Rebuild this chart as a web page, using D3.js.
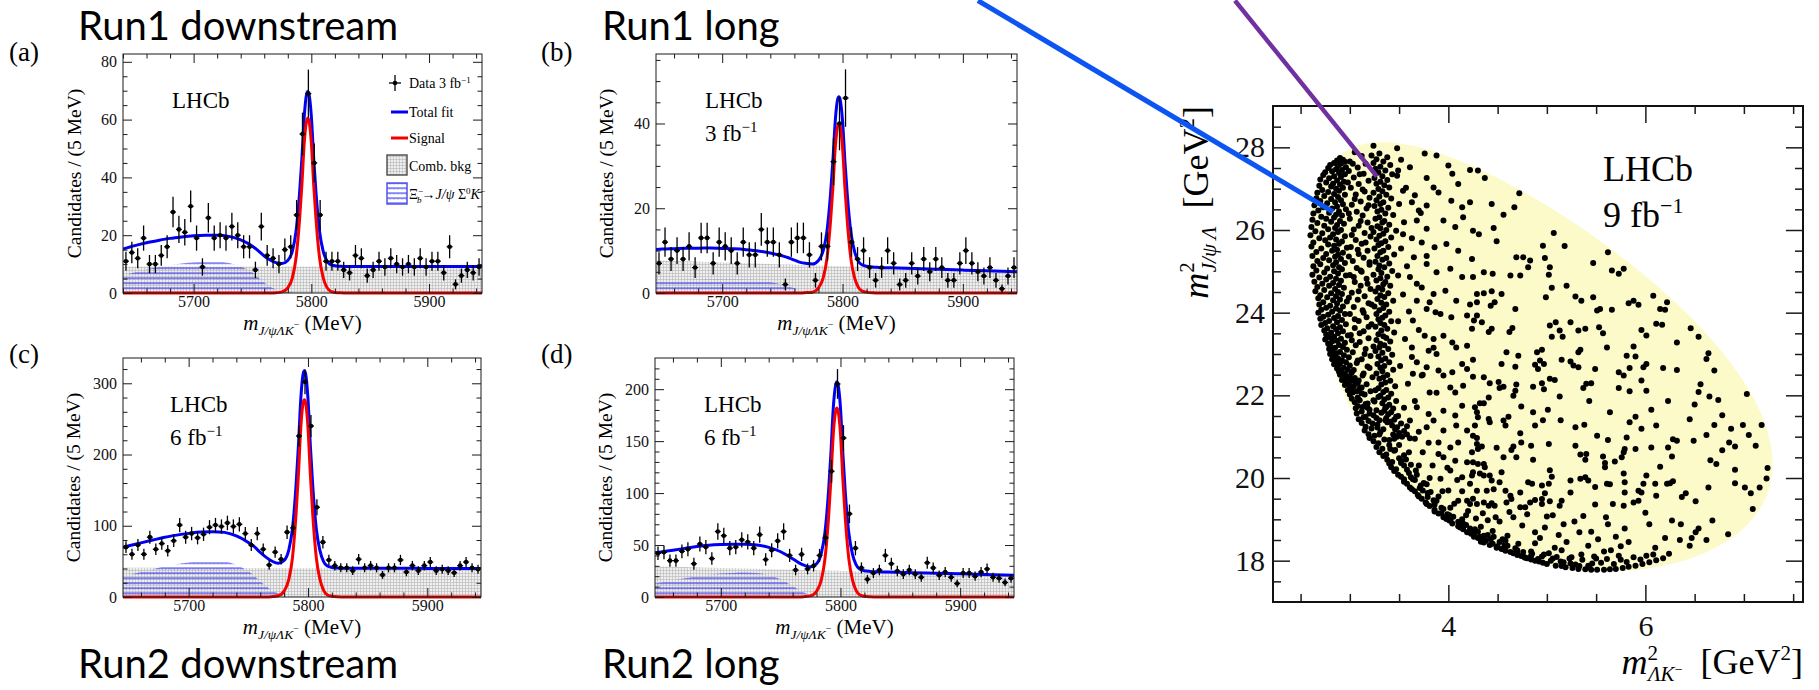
<!DOCTYPE html>
<html lang="en">
<head>
<meta charset="utf-8">
<title>Ξb⁻ → J/ψ Λ K⁻ candidates and Dalitz plot</title>
<script src="https://cdn.jsdelivr.net/npm/d3@7"></script>
<style>
  html, body { margin: 0; padding: 0; background: #fff; }
  svg { display: block; }
</style>
</head>
<body>
<svg id="figure" width="1819" height="690" xmlns="http://www.w3.org/2000/svg"></svg>
<script>
// ---------------- Invariant-mass histograms (5 MeV bins) ----------------
const binWidth = 5;
const massRangeRun1Downstream = [5640, 5945];
const massRangeRun1Long = [5645, 5945];
const massRangeRun2Downstream = [5645, 5945];
const massRangeRun2Long = [5645, 5945];

const countsRun1Downstream = [11,14,12,19,10,10,13,16,28,22,21,30,19,9,26,19,20,19,23,20,16,16,8,23,13,12,10,15,16,27,55,69,45,27,11,11,11,8,7,13,12,6,8,11,9,12,10,9,10,9,12,9,11,11,7,16,3,6,8,7,9];
const countsRun1Long = [7,12,8,10,8,11,6,13,13,7,12,11,10,7,12,9,9,15,12,12,9,2,12,13,13,9,3,11,11,31,40,46,12,8,10,6,3,6,10,7,2,3,7,4,8,5,8,6,3,3,7,10,7,5,4,6,3,1,4,6];
const countsRun2Downstream = [70,60,73,60,84,67,75,65,79,101,84,89,83,88,98,101,99,104,99,102,89,73,89,67,45,63,53,91,97,226,302,240,126,77,52,44,41,41,37,53,41,44,41,31,41,41,52,35,44,37,44,49,37,39,37,34,44,49,41,39];
const countsRun2Long = [42,43,35,35,44,46,32,51,48,37,63,59,47,48,55,53,47,60,36,45,54,63,40,26,41,27,30,40,57,121,205,153,80,47,28,17,23,26,40,32,25,22,26,22,19,33,28,21,24,19,13,23,23,20,24,27,19,18,14,18];

// ---------------- Fit components, sampled along the mass axis ----------------
const fitMass = [5640,5650,5660,5670,5680,5690,5700,5710,5720,5730,5740,5750,5755,5760,5765,5770,5775,5780,5784,5787,5790,5792,5794,5796,5797,5798,5800,5802,5804,5807,5810,5813,5816,5820,5825,5830,5840,5860,5880,5900,5920,5945];

const signalRun1Downstream = [0,0,0,0,0,0,0,0,0,0,0,0,0,0, 0,0.1,0.4,1.8,5.4,12.1,25.4,37.5,52,59.6,60.5,59.6,52,37.5,25.4,12.1,5.4,2.1,0.7,0.2,0.06,0, 0,0,0,0,0,0];
const signalRun1Long = [0,0,0,0,0,0,0,0,0,0,0,0,0,0, 0,0.1,0.2,1.2,3.6,8,16.8,24.8,34.4,39.4,40,39.4,34.4,24.8,16.8,8,3.6,1.4,0.5,0.2,0.04,0, 0,0,0,0,0,0];
const signalRun2Downstream = [0,0,0,0,0,0,0,0,0,0,0,0,0,0, 0,0.6,1.7,8.3,25,55,116,172,238,273,277,273,238,172,116,55,25,9.7,3.3,1.1,0.3,0, 0,0,0,0,0,0];
const signalRun2Long = [0,0,0,0,0,0,0,0,0,0,0,0,0,0, 0,0.4,1.1,5.5,16.4,36.4,76,113,157,179,182,179,157,113,76,36.4,16.4,6.4,2.2,0.7,0.2,0, 0,0,0,0,0,0];

// Xi_b- -> J/psi Sigma0 K- (partially reconstructed) component
const partRecoRun1Downstream = [6,7.2,8.2,9.0,9.7,10.2,10.6,10.8,10.8,10.4,9.2,7.0,5.4,3.6,2.2,1.2,0.6,0.25,0.1,0, 0,0,0,0,0,0,0,0,0,0,0,0,0,0,0,0,0,0,0,0,0,0];
const partRecoRun1Long = [2.4,2.7,2.9,3.1,3.2,3.3,3.3,3.3,3.2,3.0,2.6,2.0,1.6,1.1,0.6,0.3,0.1,0,0,0, 0,0,0,0,0,0,0,0,0,0,0,0,0,0,0,0,0,0,0,0,0,0];
const partRecoRun2Downstream = [27,31,35,39,43,46,48.5,50.5,51,50,45,36,30,22,15,9,5,2.5,1,0.4, 0,0,0,0,0,0,0,0,0,0,0,0,0,0,0,0,0,0,0,0,0,0];
const partRecoRun2Long = [12,14,16,18,20,21.5,22.5,23.2,23.5,23,21,17,14,10.5,7,4,2,0.8,0.3,0, 0,0,0,0,0,0,0,0,0,0,0,0,0,0,0,0,0,0,0,0,0,0];

// combinatorial background level at the two ends of each mass window
const combRun1Downstream = [9.2, 9.2];
const combRun1Long = [7.7, 5.0];
const combRun2Downstream = [41, 40];
const combRun2Long = [29.5, 21];

// ---------------- Axis ticks ----------------
const massTickLabels = [5700, 5800, 5900];
const yTicksRun1Downstream = [0, 20, 40, 60, 80];
const yTicksRun1Long = [0, 20, 40];
const yTicksRun2Downstream = [0, 100, 200, 300];
const yTicksRun2Long = [0, 50, 100, 150, 200];
const dalitzXTicks = [4, 6];
const dalitzYTicks = [18, 20, 22, 24, 26, 28];

// ---------------- Dalitz plot: m²(ΛK⁻) [GeV²], m²(J/ψΛ) [GeV²] ----------------
const dalitzBandLeft = [[2.90,27.74],[2.93,27.70],[2.87,27.68],[2.95,27.65],[2.84,27.62],[2.91,27.60],[2.80,27.57],[2.88,27.55],[2.96,27.52],[2.78,27.50],[2.86,27.47],[2.92,27.45],[2.82,27.42],[2.75,27.40],[2.89,27.38],[2.95,27.35],[2.73,27.33],[2.84,27.30],[2.91,27.28],[2.79,27.25],[2.70,27.22],[2.87,27.20],[2.94,27.17],[2.76,27.15],[2.83,27.12],[2.90,27.10],[2.69,27.07],[2.81,27.05],[2.93,27.02],[2.86,27.00],[2.72,26.97],[2.89,26.95],[2.78,26.92],[2.67,26.90],[2.84,26.87],[2.95,26.85],[2.74,26.82],[2.88,26.80],[2.66,26.77],[2.81,26.75],[2.91,26.72],[2.70,26.70],[2.85,26.67],[2.77,26.65],[2.93,26.62],[2.64,26.60],[2.87,26.57],[2.73,26.55],[2.82,26.52],[2.96,26.50],[2.68,26.47],[2.89,26.45],[2.79,26.42],[2.63,26.40],[2.86,26.37],[2.92,26.35],[2.71,26.32],[2.84,26.30],[2.76,26.27],[2.62,26.25],[2.90,26.22],[2.81,26.20],[2.67,26.17],[2.94,26.15],[2.87,26.12],[2.74,26.10],[2.61,26.07],[2.85,26.05],[2.78,26.02],[2.91,26.00],[2.65,25.97],[2.88,25.95],[2.72,25.92],[2.83,25.90],[2.60,25.87],[2.95,25.85],[2.80,25.82],[2.69,25.80],[2.86,25.77],[2.75,25.75],[2.92,25.72],[2.63,25.70],[2.89,25.67],[2.78,25.65],[2.84,25.62],[2.61,25.60],[2.97,25.57],[2.71,25.55],[2.87,25.52],[2.82,25.50],[2.66,25.47],[2.93,25.45],[2.76,25.42],[2.88,25.40],[2.62,25.37],[2.85,25.35],[2.73,25.32],[2.91,25.30],[2.79,25.27],[2.67,25.25],[2.86,25.22],[2.95,25.20],[2.70,25.17],[2.83,25.15],[2.63,25.12],[2.89,25.10],[2.77,25.07],[2.92,25.05],[2.66,25.02],[2.84,25.00],[2.74,24.97],[2.88,24.95],[2.62,24.92],[2.96,24.90],[2.80,24.87],[2.69,24.85],[2.86,24.82],[2.76,24.80],[2.91,24.77],[2.64,24.75],[2.83,24.72],[2.72,24.70],[2.89,24.67],[2.79,24.65],[2.67,24.62],[2.94,24.60],[2.85,24.57],[2.74,24.55],[2.65,24.52],[2.88,24.50],[2.81,24.47],[2.92,24.45],[2.70,24.42],[2.86,24.40],[2.77,24.37],[2.68,24.35],[2.90,24.32],[2.83,24.30],[2.97,24.27],[2.73,24.25],[2.87,24.22],[2.69,24.20],[2.80,24.17],[2.93,24.15],[2.76,24.12],[2.86,24.10],[2.71,24.07],[2.90,24.05],[2.82,24.02],[2.68,24.00],[2.95,23.97],[2.78,23.95],[2.88,23.92],[2.73,23.90],[2.84,23.87],[2.70,23.85],[2.92,23.82],[2.79,23.80],[2.87,23.77],[2.75,23.75],[2.96,23.72],[2.71,23.70],[2.83,23.67],[2.90,23.65],[2.77,23.62],[2.86,23.60],[2.74,23.57],[2.93,23.55],[2.81,23.52],[2.88,23.50],[2.76,23.47],[2.98,23.45],[2.84,23.42],[2.79,23.40],[2.91,23.37],[2.75,23.35],[2.87,23.32],[2.82,23.30],[2.95,23.27],[2.78,23.25],[2.89,23.22],[2.80,23.20],[2.93,23.17],[2.85,23.15],[2.79,23.12],[2.97,23.10],[2.82,23.07],[2.90,23.05],[2.86,23.02],[2.80,23.00],[2.94,22.97],[2.84,22.95],[2.99,22.92],[2.88,22.90],[2.82,22.87],[2.92,22.85],[2.86,22.82],[2.96,22.80],[2.90,22.77],[2.84,22.75],[3.00,22.72],[2.88,22.70],[2.94,22.67],[2.87,22.65],[2.98,22.62],[2.91,22.60],[2.89,22.57],[3.02,22.55],[2.95,22.52],[2.90,22.50],[3.00,22.47],[2.93,22.45],[3.05,22.42],[2.97,22.40],[2.92,22.37],[3.02,22.35],[2.96,22.32],[3.08,22.30],[2.99,22.27],[2.95,22.25],[3.04,22.22],[3.00,22.20],[3.10,22.17],[3.02,22.15],[2.98,22.12],[3.07,22.10],[3.03,22.07],[3.12,22.05],[3.00,22.02]];

const dalitzBandMid = [[3.30,27.85],[3.22,27.80],[3.38,27.76],[3.27,27.71],[3.34,27.66],[3.24,27.62],[3.41,27.57],[3.31,27.53],[3.26,27.48],[3.36,27.44],[3.29,27.39],[3.43,27.35],[3.33,27.30],[3.25,27.26],[3.38,27.21],[3.31,27.17],[3.27,27.12],[3.35,27.08],[3.40,27.03],[3.29,26.99],[3.33,26.94],[3.24,26.90],[3.37,26.85],[3.30,26.81],[3.42,26.76],[3.27,26.72],[3.34,26.67],[3.31,26.63],[3.25,26.58],[3.39,26.54],[3.32,26.49],[3.28,26.45],[3.36,26.40],[3.44,26.36],[3.30,26.31],[3.26,26.27],[3.35,26.22],[3.33,26.18],[3.40,26.13],[3.28,26.09],[3.31,26.04],[3.37,26.00],[3.24,25.95],[3.34,25.91],[3.30,25.86],[3.42,25.82],[3.27,25.77],[3.36,25.73],[3.32,25.68],[3.29,25.64],[3.39,25.59],[3.25,25.55],[3.34,25.50],[3.31,25.46],[3.45,25.41],[3.28,25.37],[3.37,25.32],[3.33,25.28],[3.26,25.23],[3.40,25.19],[3.30,25.14],[3.35,25.10],[3.29,25.05],[3.43,25.01],[3.32,24.96],[3.24,24.92],[3.38,24.87],[3.31,24.83],[3.27,24.78],[3.36,24.74],[3.34,24.69],[3.41,24.65],[3.29,24.60],[3.33,24.56],[3.26,24.51],[3.39,24.47],[3.31,24.42],[3.35,24.38],[3.28,24.33],[3.44,24.29],[3.32,24.24],[3.37,24.20],[3.25,24.15],[3.34,24.11],[3.30,24.06],[3.40,24.02],[3.27,23.97],[3.36,23.93],[3.33,23.88],[3.29,23.84],[3.42,23.79],[3.31,23.75],[3.35,23.70],[3.26,23.66],[3.38,23.61],[3.32,23.57],[3.45,23.52],[3.29,23.48],[3.34,23.43],[3.37,23.39],[3.27,23.34],[3.41,23.30],[3.31,23.25],[3.35,23.21],[3.30,23.16],[3.39,23.12],[3.26,23.07],[3.33,23.03],[3.43,22.98],[3.29,22.94],[3.36,22.89],[3.32,22.85],[3.40,22.80],[3.28,22.76],[3.35,22.71],[3.31,22.67],[3.44,22.62],[3.33,22.58],[3.27,22.53],[3.38,22.49],[3.34,22.44],[3.30,22.40],[3.41,22.35],[3.36,22.31],[3.32,22.26],[3.46,22.22],[3.29,22.17],[3.37,22.13],[3.34,22.08],[3.42,22.04],[3.31,21.99],[3.39,21.95],[3.35,21.90],[3.47,21.86],[3.33,21.81],[3.40,21.77],[3.37,21.72],[3.44,21.68],[3.35,21.63],[3.42,21.59],[3.39,21.54],[3.49,21.50],[3.37,21.45],[3.45,21.41],[3.41,21.36],[3.52,21.32],[3.43,21.27],[3.48,21.23],[3.46,21.18],[3.55,21.14],[3.50,21.09],[3.58,21.05],[3.53,21.00],[3.61,20.96]];

const dalitzBetween = [[3.05,27.88],[3.12,27.79],[3.00,27.66],[3.16,27.60],[3.08,27.51],[2.99,27.43],[3.14,27.36],[3.04,27.27],[3.19,27.19],[3.09,27.11],[3.01,27.02],[3.15,26.93],[3.06,26.86],[3.20,26.78],[3.11,26.69],[3.02,26.61],[3.17,26.52],[3.07,26.44],[3.13,26.35],[3.00,26.27],[3.18,26.18],[3.09,26.10],[3.04,26.01],[3.15,25.93],[3.21,25.84],[3.06,25.76],[3.12,25.67],[3.01,25.59],[3.18,25.50],[3.09,25.42],[3.14,25.33],[3.03,25.25],[3.20,25.16],[3.07,25.08],[3.12,24.99],[3.00,24.91],[3.17,24.82],[3.05,24.74],[3.11,24.65],[3.21,24.57],[3.02,24.48],[3.15,24.40],[3.08,24.31],[3.19,24.23],[3.04,24.14],[3.13,24.06],[3.00,23.97],[3.17,23.89],[3.09,23.80],[3.22,23.72],[3.05,23.63],[3.14,23.55],[3.01,23.46],[3.19,23.38],[3.10,23.29],[3.06,23.21],[3.16,23.12],[3.03,23.04],[3.21,22.95],[3.12,22.87],[3.07,22.78],[3.18,22.70],[3.04,22.61],[3.14,22.53],[3.23,22.44],[3.09,22.36],[3.17,22.27],[3.12,22.19],[3.21,22.10],[3.15,22.02],[3.08,21.95],[3.24,21.88],[3.18,21.80],[3.13,21.72],[3.27,21.64],[3.20,21.56],[3.16,21.48],[3.30,21.40],[3.23,21.32],[3.28,21.22],
  [3.03,27.60],[3.10,27.35],[2.98,27.15],[3.13,26.98],[3.05,26.75],[3.19,26.60],[2.99,26.40],[3.11,26.22],[3.22,26.05],[3.02,25.88],[3.16,25.70],[3.08,25.52],[2.99,25.36],[3.20,25.22],[3.11,25.02],[3.04,24.86],[3.18,24.70],[3.09,24.52],[2.99,24.36],[3.22,24.20],[3.14,24.00],[3.05,23.84],[3.19,23.66],[3.10,23.50],[3.02,23.33],[3.24,23.18],[3.15,23.00],[3.08,22.84],[3.20,22.66],[3.13,22.48],[3.06,22.30],[3.26,22.12],
  [3.52,27.70],[3.61,27.52],[3.48,27.31],[3.57,27.02],[3.66,26.84],[3.50,26.63],[3.72,26.41],[3.55,26.19],[3.47,25.98],[3.63,25.80],[3.52,25.55],[3.78,25.37],[3.58,25.12],[3.49,24.90],[3.68,24.70],[3.54,24.44],[3.81,24.25],[3.60,24.03],[3.49,23.79],[3.70,23.58],[3.56,23.36],[3.85,23.15],[3.63,22.93],[3.51,22.71],[3.74,22.50],[3.59,22.28],[3.88,22.06],[3.66,21.86],[3.55,21.70],[3.80,21.55]];

const dalitzUpperSpread = [[3.24,28.04],[3.48,27.98],[3.76,27.85],[3.88,27.80],[4.00,27.56],[4.22,27.45],[4.04,27.36],[3.78,27.26],[4.10,27.11],
  [3.49,27.44],[3.54,26.95],[3.63,26.67],[3.70,26.47],[3.78,26.59],[3.85,27.03],[3.90,26.91],[4.03,26.71],[4.14,26.55],[4.22,26.67],[3.68,26.23],[3.78,26.03],[3.95,26.23],[4.07,26.07],[4.15,26.31],[4.25,25.98],[3.54,25.90],[3.73,25.70],[3.86,25.58],[3.98,25.66],[4.10,25.50],[3.65,25.34],[3.78,25.18],[3.88,24.98],[4.02,25.06],[4.14,24.86],[3.61,24.86],[3.73,24.61],[3.85,24.45],[3.97,24.53],[4.08,24.29],[4.29,24.45],[3.68,24.29],[3.78,24.09],[3.92,23.97],[4.03,23.89],[4.19,23.93],
  [4.30,27.44],[4.37,27.26],[4.44,26.63],[4.56,26.37],[4.67,26.55],[4.72,26.89],[4.31,25.90],[4.46,26.05],[4.49,25.73],[4.24,25.30],[4.25,24.86],[4.36,24.98],[4.45,24.94],[4.36,24.47],[4.44,24.52],[4.54,24.45],[4.69,25.34],[4.76,25.34],[4.83,25.26],[4.81,25.10],[4.73,24.90],[4.63,24.90],[4.96,25.62],[5.07,25.93],[5.18,25.61],[4.98,25.32],[5.03,25.10],[5.02,24.92],[5.05,24.60],[4.99,24.37],[5.20,24.65],[5.29,24.39],[5.35,24.29],[5.47,25.20],[5.47,24.37],[5.62,25.46],[5.66,25.02],[5.73,24.94],[5.78,25.06],[5.51,24.05],[5.54,24.09],[5.66,24.07],[5.83,24.23],[5.88,24.29],[5.93,24.19],[6.08,24.41],[6.15,24.09],[6.20,24.07],[6.22,24.25],[4.68,24.09],[4.47,24.25],[4.43,24.17],[4.29,24.25],[4.22,24.20]];

const dalitzLowerSpread = [[3.64,23.81],[3.76,23.44],[3.85,23.36],[3.95,23.44],[4.04,23.28],[4.08,23.16],[4.19,23.20],[4.26,23.81],[3.87,24.01],[3.63,23.16],[3.80,23.08],[3.88,23.00],[3.68,22.80],[3.78,22.68],[3.90,22.60],[3.95,22.48],[4.04,22.56],[4.14,22.76],[4.19,22.64],[3.64,22.52],[3.73,22.48],[4.02,22.19],[4.07,22.07],[4.15,22.23],[3.81,22.07],[3.95,21.63],[4.14,21.75],[4.07,21.51],[3.85,21.39],[3.78,21.23],[3.95,21.15],[4.08,21.27],[4.19,21.15],[4.27,21.27],[3.68,21.71],[3.61,21.39],[3.90,20.86],[4.02,20.74],[4.10,20.86],[4.29,20.82],[3.95,20.50],[4.07,20.42],[4.19,20.38],[4.02,20.18],[4.14,20.02],[4.22,19.86],[4.29,19.69],[4.19,19.45],
  [4.29,23.93],[4.34,23.77],[4.24,23.61],[4.41,23.53],[4.44,23.61],[4.62,23.53],[4.65,23.63],[5.03,23.69],[5.09,23.77],[5.13,23.57],[5.24,23.77],[5.05,23.42],[5.16,23.42],[5.32,23.57],[5.39,23.61],[5.53,23.65],[5.57,23.50],[5.61,23.16],[6.11,23.73],[6.17,23.71],[5.96,23.58],[6.01,23.45],[6.32,23.28],
  [4.59,23.04],[4.71,22.96],[4.90,23.04],[4.95,23.10],[4.93,22.84],[4.97,22.76],[4.88,22.74],[4.91,22.64],[5.15,22.86],[5.24,22.82],[5.27,22.72],[5.32,23.04],[5.34,23.10],[5.32,22.68],[5.49,22.64],[5.73,22.56],[5.78,22.48],[5.81,22.96],[5.88,23.18],[5.90,22.94],[5.84,22.66],[5.98,22.68],[6.01,22.76],[6.18,22.66],[6.32,22.61],[4.25,22.86],[4.54,22.76],[4.68,22.69],
  [4.25,22.45],[4.36,22.44],[4.42,22.29],[4.51,22.32],[4.56,22.21],[4.52,22.18],[4.69,22.26],[4.68,22.11],[4.86,22.21],[4.95,22.29],[4.97,22.15],[5.03,22.40],[5.08,22.37],[5.13,21.97],[5.37,22.18],[5.40,22.28],[5.45,22.29],[5.43,21.86],[5.73,22.18],[5.84,22.10],[5.96,22.36],[6.01,22.11],[6.23,21.86],[4.66,21.99],[4.41,21.95],
  [4.32,21.81],[4.36,21.81],[4.27,21.71],[4.29,21.59],[4.30,21.47],[4.41,21.43],[4.42,21.35],[4.56,21.39],[4.61,21.48],[4.58,21.27],[4.74,21.73],[4.86,21.59],[4.88,21.27],[4.96,21.40],[5.01,21.65],[5.14,21.40],[5.29,21.23],[5.38,21.29],[5.51,21.02],[5.62,20.92],[5.64,21.59],[5.84,21.35],[5.90,21.48],[5.96,21.19],[6.06,21.65],[6.11,21.27],[6.28,20.94],[6.32,20.90],
  [4.25,21.02],[4.29,20.97],[4.34,20.76],[4.30,20.70],[4.24,20.62],[4.49,20.73],[4.56,20.50],[4.64,20.68],[4.66,20.76],[4.69,20.50],[4.74,20.86],[4.73,21.08],[4.84,20.78],[4.86,20.44],[5.02,20.82],[5.29,20.78],[5.34,20.57],[5.40,20.58],[5.39,20.44],[5.57,20.52],[5.59,20.36],[5.59,20.26],[5.69,20.40],[5.76,20.50],[5.78,20.62],[5.79,20.70],[5.81,20.98],[5.90,20.70],[6.06,20.74],[6.15,20.27],[6.23,20.74],[6.27,20.52],[6.28,19.92],[6.25,19.87],
  [4.25,20.38],[4.30,20.34],[4.36,20.34],[4.37,20.26],[4.25,20.14],[4.24,20.06],[4.32,20.11],[4.36,20.06],[4.42,20.06],[4.44,19.94],[4.54,20.14],[4.52,19.90],[4.39,19.69],[4.46,19.73],[4.58,19.69],[4.63,19.57],[4.73,19.65],[4.81,19.90],[4.85,19.86],[4.88,19.47],[4.95,19.49],[4.98,19.63],[4.95,19.82],[5.03,20.19],[5.05,20.03],[5.02,19.86],[5.15,19.45],[5.24,19.94],[5.24,19.65],[5.34,19.98],[5.39,20.02],[5.42,19.94],[5.49,19.78],[5.61,19.86],[5.64,19.85],[5.79,19.90],[5.78,20.11],[5.79,19.65],[5.93,19.69],[5.96,19.65],[5.98,19.86],[6.01,20.06],[6.10,19.86],[6.22,19.86],
  [4.22,19.37],[4.29,19.37],[4.36,19.41],[4.41,19.33],[4.44,19.39],[4.47,19.33],[4.59,19.41],[4.64,19.49],[4.73,19.29],[4.78,19.29],[4.83,19.41],[4.95,19.37],[5.03,19.44],[5.13,19.33],[5.49,19.36],[5.67,19.37],[5.78,19.33],[5.88,19.41],[5.93,19.45],[6.11,19.57]];

const dalitzRightSpread = [[6.54,23.42],[6.64,23.02],[6.70,22.60],[6.62,22.88],[6.56,22.27],[6.54,22.08],[6.65,21.97],[6.50,21.78],[7.03,22.03],[7.18,21.28],[7.24,20.24],[7.23,19.99],[7.09,19.25],[6.84,18.64],[6.62,18.50],[6.68,18.97],[6.54,18.78],[6.47,18.55],[6.36,18.88],[6.37,19.54],[6.41,19.63],[6.51,19.44],[6.91,19.87],[7.01,19.77],[7.07,19.63],[7.16,19.77],[6.87,21.19],[6.85,20.86],[6.91,20.76],[6.70,21.28],[6.99,21.28],[7.05,21.04],[7.12,20.78],[6.62,21.04],[6.66,20.43],[6.72,20.34],[6.78,20.67],[6.91,20.20],[6.64,19.77],[6.49,20.90],[6.45,21.42],[6.78,21.52],[6.46,23.62],[6.74,21.89]];

const dalitzLowerEdge = [[3.02,21.92],[3.10,21.88],[3.05,21.83],[3.16,21.79],[3.08,21.74],[3.06,21.69],[3.20,21.65],[3.12,21.61],[3.07,21.56],[3.24,21.52],[3.14,21.47],[3.09,21.42],[3.19,21.38],[3.12,21.33],[3.28,21.29],[3.16,21.24],[3.22,21.20],[3.15,21.15],[3.31,21.11],[3.19,21.06],[3.25,21.02],[3.20,20.97],
  [3.35,20.93],[3.24,20.89],[3.29,20.84],[3.40,20.80],[3.27,20.75],[3.33,20.71],[3.45,20.66],[3.30,20.62],[3.37,20.57],[3.34,20.53],[3.50,20.48],[3.38,20.44],[3.43,20.39],[3.40,20.35],[3.55,20.30],[3.42,20.26],[3.47,20.21],[3.45,20.17],[3.60,20.12],[3.49,20.08],[3.52,20.03],[3.55,19.97],
  [3.66,19.95],[3.55,19.91],[3.58,19.86],[3.72,19.82],[3.61,19.77],[3.63,19.73],[3.66,19.68],[3.79,19.64],[3.69,19.59],[3.70,19.55],[3.73,19.50],[3.85,19.46],[3.77,19.41],[3.78,19.37],[3.81,19.32],[3.93,19.28],[3.86,19.23],[3.86,19.19],[3.90,19.14],[4.01,19.10],[3.95,19.05],[3.98,19.01],
  [4.01,18.97],[4.10,18.94],[4.04,18.90],[4.18,18.86],[4.10,18.83],[4.12,18.80],[4.15,18.76],[4.25,18.72],[4.19,18.69],[4.23,18.65],[4.26,18.62],[4.32,18.58],[4.30,18.55],[4.34,18.52],[4.38,18.49],
  [4.33,18.46],[4.36,18.44],[4.45,18.41],[4.42,18.38],[4.50,18.35],[4.49,18.31],[4.54,18.28],[4.57,18.27],[4.58,18.24],[4.63,18.21],[4.66,18.18],[4.70,18.20],[4.70,18.14],[4.74,18.11],[4.77,18.09],[4.80,18.06],[4.84,18.03],[4.88,18.00],
  [4.92,17.98],[4.78,18.07],[4.96,17.95],[4.84,18.12],[5.00,17.92],[4.91,18.04],[5.09,17.88],[4.97,18.15],[5.15,17.87],[5.04,18.00],[5.19,17.84],[5.10,18.09],[5.26,17.82],[5.17,17.96],[5.32,17.80],[5.23,18.05],[5.39,17.79],[5.29,17.91],[5.45,17.78],[5.36,18.02],[5.51,17.78],[5.42,17.88],[5.58,17.78],[5.48,18.10],[5.64,17.79],[5.55,17.95],[5.70,17.80],[5.61,18.04],
  [5.77,17.82],[5.68,17.92],[5.83,17.85],[5.75,18.02],[5.90,17.88],[5.81,17.97],[5.97,17.92],[5.88,18.08],[6.04,17.96],[5.95,18.03],[6.11,18.01],[6.01,18.12],[6.18,18.06],[6.08,18.15],
  [3.25,21.85],[3.18,21.70],[3.32,21.58],[3.27,21.45],[3.38,21.35],[3.34,21.18],[3.44,21.05],[3.40,20.92],[3.50,20.80],[3.46,20.68],[3.55,20.55],[3.52,20.42],[3.62,20.32],[3.58,20.20],[3.68,20.08],[3.64,19.97],[3.75,19.88],[3.71,19.76],[3.82,19.66],[3.79,19.54],[3.88,19.45],[3.86,19.35],[3.95,19.25],[3.93,19.15],[4.05,19.06],[4.02,18.98],[4.15,18.90],[4.22,18.78],[4.30,18.70],[4.36,18.60],[4.43,18.52],[4.52,18.45],[4.60,18.36],[4.68,18.30],[4.76,18.21],[4.85,18.17],[4.95,18.10],[5.06,18.05],[5.14,17.98],[5.24,17.93],[5.33,17.87],[5.43,17.84],[3.58,21.25],[3.66,20.95],[3.74,20.62],[3.84,20.30],[3.92,19.98],[4.00,19.70],[4.10,19.45],[4.20,19.20],[4.28,19.02],[3.29,21.96],[3.36,21.70],[3.47,21.48],[3.70,21.12],[3.80,20.85],[3.90,20.58],[3.99,20.25],[4.09,19.95],[4.14,19.68],[4.25,19.50],
  [3.30,21.05],[3.41,20.70],[3.52,20.36],[3.62,20.02],[3.74,19.70],[3.86,19.40],[3.99,19.12],[4.12,18.84],[4.26,18.58],[3.36,21.40],[3.48,21.00],[3.60,20.62],[3.70,20.30],[3.81,20.00],[3.94,19.68],[4.06,19.38],[4.18,19.10],[4.33,18.82],[4.46,18.58],[4.58,18.48],[3.45,20.95],[3.57,20.45],[3.67,20.18],[3.78,19.85],[3.90,19.55],[4.02,19.28],[4.14,19.00],[4.27,18.76],[4.40,18.62],[4.55,18.52],
  [5.62,18.88],[5.79,18.78],[5.83,18.45],[6.00,19.16],[6.04,18.88],[6.10,18.31],[6.20,18.55],[6.27,18.97],[6.35,18.50],[6.45,18.36],[6.51,18.69],[5.58,18.22],[5.42,18.36],[5.73,18.12],[6.24,18.17],[5.33,18.69],[5.17,18.88],[5.00,19.07],[4.88,18.69],[4.71,18.41],[4.84,18.22],[5.08,18.31],[5.25,18.08],[5.46,17.93],
  [4.45,18.72],[4.52,18.95],[4.60,18.60],[4.66,19.05],[4.75,18.85],[4.80,19.12],[4.93,18.55],[4.98,18.80],[5.06,19.10],[5.12,18.62],[5.20,18.45],[5.28,18.95],[5.37,19.08],[5.45,18.70],[5.52,18.52],[5.60,19.05],[5.70,18.58],[5.75,18.35],[4.40,18.98],[4.57,18.38],[4.70,18.25],[4.88,18.42],[5.02,18.18],[5.15,18.25],[5.35,18.15],[5.50,18.05],[5.65,18.25],[4.35,19.15],[4.48,19.05],[4.62,19.18]];

// particle masses (GeV) defining the kinematic boundary of the Dalitz plot
const M_XIB = 5.7970, M_JPSI = 3.0969, M_LAMBDA = 1.11568, M_KAON = 0.49368;
const dalitzXDomain = [2.22, 7.6];
const dalitzYDomain = [17, 29];

// annotation lines, in Dalitz-plot coordinates
const calloutLines = [
  { from: [-0.775, 31.55], to: [2.83, 26.44], color: '#0d55f2', width: 5 },
  { from: [1.834, 31.55], to: [3.276, 27.29], color: '#7030a0', width: 4.5 }
];

// =====================================================================
const svg = d3.select('#figure');
const SERIF = "'Liberation Serif', 'Times New Roman', serif";
const SANS = "Lato, 'Open Sans', 'Liberation Sans', sans-serif";
const defs = svg.append('defs');

// fill textures for the background components
const combPat = defs.append('pattern').attr('id', 'combFill')
  .attr('patternUnits', 'userSpaceOnUse').attr('width', 3).attr('height', 3);
combPat.append('rect').attr('width', 3).attr('height', 3).attr('fill', '#efefef');
combPat.append('path').attr('d', 'M0,0.5H3M0.5,0V3')
  .attr('stroke', '#b6b6b6').attr('stroke-width', 0.6).attr('fill', 'none');

const partPat = defs.append('pattern').attr('id', 'partFill')
  .attr('patternUnits', 'userSpaceOnUse').attr('width', 4).attr('height', 5);
partPat.append('path').attr('d', 'M0,4.3L1,2.2L2,4.3L3,2.2L4,4.3')
  .attr('fill', 'none').attr('stroke', '#4a4af2').attr('stroke-width', 0.75);

// text with tspans: each part {t, dx, dy, size, it}
function richText(parent, x, y, parts, opts = {}) {
  const t = parent.append('text').attr('x', x).attr('y', y)
    .attr('font-family', opts.family || SERIF)
    .attr('font-size', opts.size || 16)
    .attr('fill', opts.fill || '#000')
    .attr('text-anchor', opts.anchor || 'start');
  if (opts.transform) t.attr('transform', opts.transform);
  parts.forEach(p => {
    const s = t.append('tspan').text(p.t);
    if (p.dx != null) s.attr('dx', p.dx);
    if (p.dy != null) s.attr('dy', p.dy);
    if (p.size != null) s.attr('font-size', p.size);
    if (p.it) s.attr('font-style', 'italic');
  });
  return t;
}

function styleAxis(sel, fontSize) {
  sel.select('.domain').remove();
  sel.attr('font-family', SERIF).attr('font-size', fontSize);
  sel.selectAll('.tick line').attr('stroke', '#1a1a1a').attr('stroke-width', 1);
  sel.selectAll('.tick text').attr('fill', '#111');
}

const none = () => '';

const massPanels = [
  { key: 'a', tag: '(a)', title: 'Run1 downstream', counts: countsRun1Downstream, range: massRangeRun1Downstream,
    signal: signalRun1Downstream, part: partRecoRun1Downstream, comb: combRun1Downstream,
    yMax: 82.7, yTicks: yTicksRun1Downstream, yMinorStep: 5, lumi: null, legend: true,
    frame: { x0: 123, x1: 482, y0: 54, y1: 293 }, titleAt: [78, 40], tagAt: [9, 61], lhcbAt: [172, 108], yTitleX: 81 },
  { key: 'b', tag: '(b)', title: 'Run1 long', counts: countsRun1Long, range: massRangeRun1Long,
    signal: signalRun1Long, part: partRecoRun1Long, comb: combRun1Long,
    yMax: 56.4, yTicks: yTicksRun1Long, yMinorStep: 5, lumi: '3', legend: false,
    frame: { x0: 656, x1: 1017, y0: 54, y1: 293 }, titleAt: [602, 40], tagAt: [541, 61], lhcbAt: [705, 108], yTitleX: 613 },
  { key: 'c', tag: '(c)', title: 'Run2 downstream', counts: countsRun2Downstream, range: massRangeRun2Downstream,
    signal: signalRun2Downstream, part: partRecoRun2Downstream, comb: combRun2Downstream,
    yMax: 335.5, yTicks: yTicksRun2Downstream, yMinorStep: 20, lumi: '6', legend: false,
    frame: { x0: 123, x1: 481, y0: 358, y1: 597 }, titleAt: [78, 678], tagAt: [9, 363], lhcbAt: [170, 412], yTitleX: 80 },
  { key: 'd', tag: '(d)', title: 'Run2 long', counts: countsRun2Long, range: massRangeRun2Long,
    signal: signalRun2Long, part: partRecoRun2Long, comb: combRun2Long,
    yMax: 230, yTicks: yTicksRun2Long, yMinorStep: 10, lumi: '6', legend: false,
    frame: { x0: 655, x1: 1014, y0: 358, y1: 597 }, titleAt: [602, 678], tagAt: [541, 363], lhcbAt: [704, 412], yTitleX: 612 }
];

function drawMassPanel(p) {
  const { x0, x1, y0, y1 } = p.frame;
  const x = d3.scaleLinear().domain(p.range).range([x0, x1]);
  const y = d3.scaleLinear().domain([0, p.yMax]).range([y1, y0]);
  const g = svg.append('g').attr('class', 'panel-' + p.key);

  const clipId = 'clip-' + p.key;
  defs.append('clipPath').attr('id', clipId).append('rect')
    .attr('x', x0).attr('y', y0).attr('width', x1 - x0).attr('height', y1 - y0 + 2);
  const plot = g.append('g').attr('clip-path', `url(#${clipId})`);

  // fit components on the sampling grid; the total is their sum
  const combLevel = d3.scaleLinear().domain(p.range).range(p.comb);
  const rows = fitMass.map((m, i) => {
    const comb = combLevel(m), part = p.part[i], sig = p.signal[i];
    return { m, comb, part, sig, total: comb + part + sig };
  });

  plot.append('path').datum(rows)
    .attr('d', d3.area().x(d => x(d.m)).y0(y(0)).y1(d => y(d.comb)))
    .attr('fill', 'url(#combFill)');
  plot.append('path').datum(rows)
    .attr('d', d3.area().curve(d3.curveMonotoneX).x(d => x(d.m)).y0(y(0)).y1(d => y(d.part)))
    .attr('fill', 'url(#partFill)');

  const curve = key => d3.line().curve(d3.curveMonotoneX).x(d => x(d.m)).y(d => y(d[key]));
  plot.append('path').datum(rows).attr('d', curve('total'))
    .attr('fill', 'none').attr('stroke', '#0000f5').attr('stroke-width', 3);
  plot.append('path').datum(rows).attr('d', curve('sig'))
    .attr('fill', 'none').attr('stroke', '#f50000').attr('stroke-width', 3);

  // data points with Poisson uncertainties
  const bins = p.counts.map((n, i) => ({ m: p.range[0] + binWidth * (i + 0.5), n, e: Math.sqrt(n) }));
  const pts = plot.append('g').attr('stroke', '#000').attr('stroke-width', 1.3);
  pts.selectAll('line.ev').data(bins).join('line').attr('class', 'ev')
    .attr('x1', d => x(d.m)).attr('x2', d => x(d.m))
    .attr('y1', d => y(d.n + d.e)).attr('y2', d => y(Math.max(0, d.n - d.e)));
  pts.selectAll('line.eh').data(bins).join('line').attr('class', 'eh')
    .attr('x1', d => x(d.m - binWidth / 2)).attr('x2', d => x(d.m + binWidth / 2))
    .attr('y1', d => y(d.n)).attr('y2', d => y(d.n));
  pts.selectAll('circle').data(bins).join('circle')
    .attr('cx', d => x(d.m)).attr('cy', d => y(d.n)).attr('r', 2.3)
    .attr('fill', '#000').attr('stroke', 'none');

  // frame and ticks on all four sides
  g.append('rect').attr('x', x0).attr('y', y0).attr('width', x1 - x0).attr('height', y1 - y0)
    .attr('fill', 'none').attr('stroke', '#1a1a1a').attr('stroke-width', 1);

  const xMinor = d3.range(Math.ceil(p.range[0] / 20) * 20, p.range[1] + 1, 20).filter(v => v % 100 !== 0);
  const yMinor = d3.range(0, p.yMax, p.yMinorStep).filter(v => !p.yTicks.includes(v));
  const axes = [
    [d3.axisBottom(x).tickValues(massTickLabels).tickFormat(d3.format('d')).tickSize(-9).tickPadding(3), 0, y1],
    [d3.axisBottom(x).tickValues(xMinor).tickFormat(none).tickSize(-4.5), 0, y1],
    [d3.axisTop(x).tickValues(massTickLabels).tickFormat(none).tickSize(-9), 0, y0],
    [d3.axisTop(x).tickValues(xMinor).tickFormat(none).tickSize(-4.5), 0, y0],
    [d3.axisLeft(y).tickValues(p.yTicks).tickFormat(d3.format('d')).tickSize(-9).tickPadding(6), x0, 0],
    [d3.axisLeft(y).tickValues(yMinor).tickFormat(none).tickSize(-4.5), x0, 0],
    [d3.axisRight(y).tickValues(p.yTicks).tickFormat(none).tickSize(-9), x1, 0],
    [d3.axisRight(y).tickValues(yMinor).tickFormat(none).tickSize(-4.5), x1, 0]
  ];
  axes.forEach(([ax, tx, ty]) => {
    g.append('g').attr('transform', `translate(${tx},${ty})`).call(ax).call(s => styleAxis(s, 16));
  });

  // axis titles
  g.append('text')
    .attr('transform', `translate(${p.yTitleX},${(y0 + y1) / 2}) rotate(-90)`)
    .attr('text-anchor', 'middle').attr('font-family', SERIF).attr('font-size', 19.5)
    .text('Candidates / (5 MeV)');
  richText(g, (x0 + x1) / 2, y1 + 37, [
    { t: 'm', it: true },
    { t: 'J/ψΛK', it: true, size: 13.5, dy: 5 },
    { t: '−', size: 10, dy: -7 },
    { t: '\u00a0(MeV)', dy: 2 }
  ], { size: 21, anchor: 'middle' });

  // panel title, tag and experiment label
  g.append('text').attr('x', p.titleAt[0]).attr('y', p.titleAt[1])
    .attr('font-family', SANS).attr('font-size', 40).text(p.title);
  g.append('text').attr('x', p.tagAt[0]).attr('y', p.tagAt[1])
    .attr('font-family', SERIF).attr('font-size', 27).text(p.tag);
  g.append('text').attr('x', p.lhcbAt[0]).attr('y', p.lhcbAt[1])
    .attr('font-family', SERIF).attr('font-size', 23).text('LHCb');
  if (p.lumi) {
    richText(g, p.lhcbAt[0], p.lhcbAt[1] + 33, [
      { t: p.lumi + ' fb' },
      { t: '−1', size: 15, dy: -9 }
    ], { size: 23 });
  }

  if (p.legend) drawLegend(g);
}

function drawLegend(g) {
  const lx = 395, tx = 409;
  // data marker
  g.append('line').attr('x1', lx).attr('x2', lx).attr('y1', 75).attr('y2', 91).attr('stroke', '#000').attr('stroke-width', 1.3);
  g.append('line').attr('x1', lx - 6).attr('x2', lx + 6).attr('y1', 83).attr('y2', 83).attr('stroke', '#000').attr('stroke-width', 1.3);
  g.append('circle').attr('cx', lx).attr('cy', 83).attr('r', 2.3).attr('fill', '#000');
  richText(g, tx, 88, [{ t: 'Data 3 fb' }, { t: '−1', size: 9, dy: -5 }], { size: 14 });
  // total fit and signal
  g.append('line').attr('x1', 391).attr('x2', 408).attr('y1', 112).attr('y2', 112).attr('stroke', '#0000f5').attr('stroke-width', 3);
  richText(g, tx, 117, [{ t: 'Total fit' }], { size: 14 });
  g.append('line').attr('x1', 391).attr('x2', 408).attr('y1', 138).attr('y2', 138).attr('stroke', '#f50000').attr('stroke-width', 3);
  richText(g, tx, 143, [{ t: 'Signal' }], { size: 14 });
  // background boxes
  g.append('rect').attr('x', 387).attr('y', 155).attr('width', 20).attr('height', 20)
    .attr('fill', 'url(#combFill)').attr('stroke', '#555').attr('stroke-width', 1.5);
  richText(g, tx, 171, [{ t: 'Comb. bkg' }], { size: 14 });
  g.append('rect').attr('x', 387).attr('y', 183).attr('width', 20).attr('height', 21)
    .attr('fill', '#fff').attr('stroke', 'none');
  g.append('rect').attr('x', 387).attr('y', 183).attr('width', 20).attr('height', 21)
    .attr('fill', 'url(#partFill)').attr('stroke', '#5050f0').attr('stroke-width', 1.5);
  richText(g, tx, 199, [
    { t: 'Ξ' }, { t: '−', size: 9, dy: -5 }, { t: 'b', size: 9, it: true, dx: -6, dy: 9 },
    { t: '→', dy: -4 }, { t: 'J/ψ', it: true }, { t: '\u00a0Σ' }, { t: '0', size: 9, dy: -5 },
    { t: 'K', it: true, dy: 5 }, { t: '−', size: 9, dy: -5 }
  ], { size: 14 });
}

massPanels.forEach(drawMassPanel);

// ---------------- Dalitz plot ----------------
function dalitzLimits(s12) {
  const m12 = Math.sqrt(s12);
  const e2 = (s12 - M_JPSI * M_JPSI + M_LAMBDA * M_LAMBDA) / (2 * m12);
  const e3 = (M_XIB * M_XIB - s12 - M_KAON * M_KAON) / (2 * m12);
  const p2 = Math.sqrt(Math.max(e2 * e2 - M_LAMBDA * M_LAMBDA, 0));
  const p3 = Math.sqrt(Math.max(e3 * e3 - M_KAON * M_KAON, 0));
  const sum = (e2 + e3) * (e2 + e3);
  return [sum - (p2 + p3) * (p2 + p3), sum - (p2 - p3) * (p2 - p3)];
}

function drawDalitz() {
  const frame = { x0: 1273, x1: 1803, y0: 106, y1: 602 };
  const sx = d3.scaleLinear().domain(dalitzXDomain).range([frame.x0, frame.x1]);
  const sy = d3.scaleLinear().domain(dalitzYDomain).range([frame.y1, frame.y0]);
  const g = svg.append('g').attr('class', 'dalitz');

  // kinematically allowed region
  const sLo = (M_JPSI + M_LAMBDA) ** 2, sHi = (M_XIB - M_KAON) ** 2;
  const samples = d3.range(0, 241).map(i => sLo + (sHi - sLo) * (1 - Math.cos(Math.PI * i / 240)) / 2);
  const lims = samples.map(s => ({ s, lim: dalitzLimits(s) }));
  const outline = lims.map(d => [d.lim[0], d.s]).concat(lims.slice().reverse().map(d => [d.lim[1], d.s]));
  g.append('path')
    .attr('d', d3.line().x(d => sx(d[0])).y(d => sy(d[1]))(outline) + 'Z')
    .attr('fill', '#fcfac8').attr('stroke', 'none');

  // candidates
  const points = [].concat(dalitzBandLeft, dalitzBandMid, dalitzBetween, dalitzUpperSpread,
    dalitzLowerSpread, dalitzRightSpread, dalitzLowerEdge);
  g.append('g').selectAll('circle').data(points).join('circle')
    .attr('cx', d => sx(d[0])).attr('cy', d => sy(d[1])).attr('r', 3).attr('fill', '#000');

  // frame and ticks
  g.append('rect').attr('x', frame.x0).attr('y', frame.y0)
    .attr('width', frame.x1 - frame.x0).attr('height', frame.y1 - frame.y0)
    .attr('fill', 'none').attr('stroke', '#111').attr('stroke-width', 2);

  const xMinor = d3.range(2.5, 7.6, 0.5).filter(v => !dalitzXTicks.includes(v));
  const yMinor = d3.range(17.5, 29, 0.5).filter(v => !dalitzYTicks.includes(v));
  const axes = [
    [d3.axisBottom(sx).tickValues(dalitzXTicks).tickFormat(d3.format('d')).tickSize(-17).tickPadding(13), 0, frame.y1],
    [d3.axisBottom(sx).tickValues(xMinor).tickFormat(none).tickSize(-8), 0, frame.y1],
    [d3.axisTop(sx).tickValues(dalitzXTicks).tickFormat(none).tickSize(-17), 0, frame.y0],
    [d3.axisTop(sx).tickValues(xMinor).tickFormat(none).tickSize(-8), 0, frame.y0],
    [d3.axisLeft(sy).tickValues(dalitzYTicks).tickFormat(d3.format('d')).tickSize(-17).tickPadding(8), frame.x0, 0],
    [d3.axisLeft(sy).tickValues(yMinor).tickFormat(none).tickSize(-8), frame.x0, 0],
    [d3.axisRight(sy).tickValues(dalitzYTicks).tickFormat(none).tickSize(-17), frame.x1, 0],
    [d3.axisRight(sy).tickValues(yMinor).tickFormat(none).tickSize(-8), frame.x1, 0]
  ];
  axes.forEach(([ax, tx, ty]) => {
    g.append('g').attr('transform', `translate(${tx},${ty})`).call(ax).call(s => {
      styleAxis(s, 30);
      s.selectAll('.tick line').attr('stroke-width', 1.5);
    });
  });

  // axis titles
  richText(g, frame.x1, 674, [
    { t: 'm', it: true }, { t: '2', size: 21, dy: -14 },
    { t: 'ΛK', it: true, size: 21, dx: -10, dy: 21 }, { t: '−', size: 14, dy: -7 },
    { t: '\u00a0\u00a0[GeV', dy: 0 }, { t: '2', size: 21, dy: -14 }, { t: ']', dy: 14 }
  ], { size: 36, anchor: 'end' });
  richText(g, 0, 0, [
    { t: 'm', it: true }, { t: '2', size: 21, dy: -14 },
    { t: 'J/ψ Λ', it: true, size: 21, dx: -10, dy: 22 },
    { t: '\u00a0\u00a0[GeV', dy: -8 }, { t: '2', size: 21, dy: -14 }, { t: ']', dy: 14 }
  ], { size: 36, anchor: 'end', transform: `translate(1208,${frame.y0}) rotate(-90)` });

  // experiment label
  g.append('text').attr('x', 1603).attr('y', 181).attr('font-family', SERIF).attr('font-size', 36).text('LHCb');
  richText(g, 1603, 227, [{ t: '9 fb' }, { t: '−1', size: 22, dy: -14 }], { size: 36 });

  // annotation lines pointing into the plot
  svg.append('g').selectAll('line').data(calloutLines).join('line')
    .attr('x1', d => sx(d.from[0])).attr('y1', d => sy(d.from[1]))
    .attr('x2', d => sx(d.to[0])).attr('y2', d => sy(d.to[1]))
    .attr('stroke', d => d.color).attr('stroke-width', d => d.width);
}

drawDalitz();
</script>
</body>
</html>
